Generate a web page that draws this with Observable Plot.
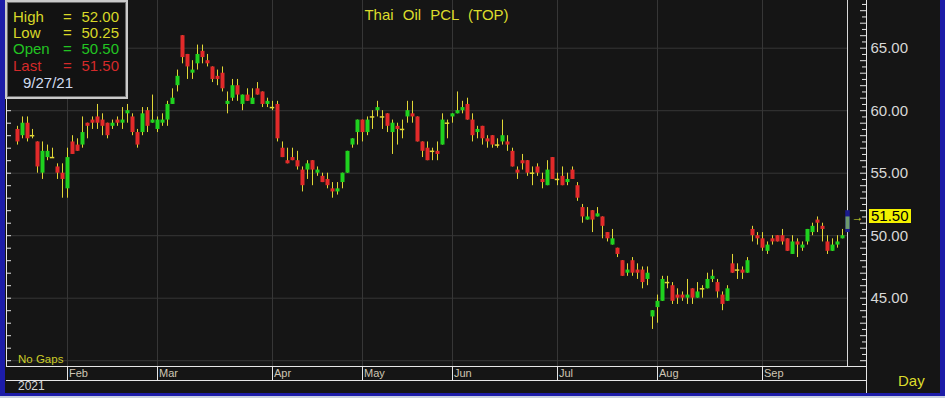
<!DOCTYPE html>
<html>
<head>
<meta charset="utf-8">
<script src="https://cdn.jsdelivr.net/npm/d3@7"></script>
<script src="https://cdn.jsdelivr.net/npm/@observablehq/plot@0.6"></script>
<style>
  html, body { margin:0; padding:0; background:#151515; overflow:hidden; }
  #wrap { position:relative; width:945px; height:398px; overflow:hidden; background:#151515; font-family:"Liberation Sans", Arial, sans-serif; }
  #wrap svg { position:absolute; left:0; top:0; }
  .ov { position:absolute; white-space:pre; }
  #legend { left:5px; top:0; width:123px; height:99px; box-sizing:border-box; border:2px solid #cacaca; box-shadow: inset 0 0 0 1px #6a6a6a; background:#121212; }
  .lg { font-size:15px; line-height:15px; }
</style>
</head>
<body>
<div id="wrap"></div>
<script>
// ---- data (trading-day index 0 = 18 Jan 2021 ... 166 = 27 Sep 2021) ----
const openP = [
58.5,58.0,59.0,58.0,57.5,55.0,56.25,56.25,55.5,55.0,
53.75,57.5,57.25,57.25,59.0,59.25,59.5,59.25,59.0,58.75,
59.25,59.0,59.75,59.5,58.25,58.25,60.0,59.0,58.5,59.0,
59.25,60.5,62.0,66.0,64.5,63.0,63.75,64.75,64.0,63.5,
62.75,63.0,60.5,61.0,62.0,60.5,61.25,60.5,61.75,61.5,
60.5,60.25,60.5,57.0,56.0,56.25,56.0,55.25,55.25,56.0,
55.0,54.75,54.5,53.75,53.5,54.25,55.0,57.25,58.25,59.25,
58.25,59.5,60.0,59.5,59.75,58.25,58.75,58.5,59.5,59.75,
59.5,57.5,57.0,56.75,56.75,57.25,59.0,59.5,59.75,60.0,
60.5,59.25,58.25,58.75,57.75,58.0,57.25,57.5,57.5,56.75,
55.25,56.0,56.0,55.0,55.5,54.5,54.0,56.25,54.5,54.75,
54.25,55.25,54.0,52.25,51.25,52.0,51.5,51.5,50.25,49.25,
49.0,48.0,47.0,48.0,47.25,47.25,46.5,43.5,44.25,44.75,
46.25,46.0,45.25,45.25,45.0,45.75,45.0,45.75,45.75,46.5,
46.25,45.25,44.75,47.75,47.25,47.25,47.0,50.5,50.0,49.75,
48.75,49.75,50.0,50.0,49.75,48.5,49.5,49.0,49.5,50.25,
51.25,50.75,49.5,48.75,49.25,49.75,50.5];
const highP = [
58.75,59.5,59.5,58.5,57.5,57.5,57.25,57.0,55.75,55.75,
57.0,58.0,57.75,59.5,59.0,59.5,60.5,59.75,59.0,59.25,
59.5,60.25,60.5,59.75,58.5,60.25,60.25,61.25,59.5,59.75,
60.75,61.75,63.25,66.0,64.5,64.0,65.25,65.25,64.5,63.5,
63.25,63.5,61.5,62.5,62.5,61.25,61.75,61.75,62.25,61.5,
61.0,60.75,60.75,57.5,57.0,57.0,56.75,55.5,56.0,56.0,
55.5,55.0,55.0,54.25,54.25,55.0,56.75,57.75,59.25,59.25,
59.5,60.0,60.75,60.0,59.75,59.25,59.0,59.25,60.75,60.75,
59.5,57.5,57.5,57.0,57.5,59.75,59.25,59.75,61.5,60.75,
61.0,59.75,58.75,58.75,58.0,58.0,57.75,59.25,58.0,57.0,
55.5,56.5,56.0,55.5,55.75,55.0,56.0,56.25,55.0,55.5,
55.0,55.5,54.25,52.5,52.25,52.0,52.25,51.5,50.25,50.5,
49.0,48.0,47.75,48.25,47.75,47.5,47.5,44.0,45.25,46.75,
46.75,46.25,45.75,45.5,46.5,45.75,46.25,46.0,47.0,47.25,
46.5,45.5,46.0,48.5,47.75,47.5,48.25,50.75,50.25,50.25,
49.5,50.0,50.0,50.5,49.75,50.0,49.75,49.5,50.5,51.0,
51.5,51.0,50.0,49.75,50.0,50.5,52.0];
const lowP = [
57.25,57.75,57.5,57.75,55.0,54.5,56.0,56.25,54.5,53.0,
53.0,56.5,56.75,57.0,57.75,58.5,58.5,58.0,57.75,58.5,
58.75,58.5,59.0,58.0,57.0,58.0,58.25,59.0,58.25,58.75,
58.75,60.5,61.5,63.75,62.5,62.5,63.25,63.75,63.5,62.25,
62.0,61.5,59.75,60.75,60.75,60.0,60.75,60.5,61.25,60.25,
60.25,60.0,57.5,56.25,55.75,56.0,55.25,53.5,54.5,54.0,
54.75,54.25,53.75,53.0,53.25,53.75,55.0,57.0,57.25,57.5,
58.0,58.5,59.5,58.5,58.25,56.5,57.25,57.75,59.0,59.0,
57.5,56.25,56.0,56.0,56.0,57.25,57.75,59.0,59.75,59.75,
59.25,57.5,57.75,57.25,57.0,57.0,57.0,57.25,56.75,55.5,
54.5,55.25,54.75,54.0,54.75,53.75,54.0,54.5,54.0,54.0,
54.0,54.5,52.75,51.0,51.25,50.25,51.5,49.75,49.5,49.25,
48.25,46.75,46.75,46.75,46.5,45.75,46.0,42.5,43.0,44.75,
45.75,44.5,44.5,44.75,44.5,44.5,45.0,45.0,45.75,46.25,
45.0,44.0,44.75,47.0,46.5,46.5,47.0,49.5,49.25,48.75,
48.5,49.25,49.5,49.25,48.75,48.5,48.25,48.75,49.25,50.0,
50.25,49.5,48.5,48.75,49.0,49.75,50.25];
const closeP = [
57.5,59.0,57.75,58.0,55.5,56.75,56.75,56.25,55.0,54.5,
56.25,56.5,56.75,58.25,58.75,59.0,59.0,58.75,58.0,59.0,
59.0,59.25,60.0,58.25,57.25,59.75,58.75,59.25,59.25,59.25,
60.5,61.0,62.75,64.25,63.5,63.25,64.5,64.25,63.75,62.5,
62.5,61.75,60.75,62.0,61.25,61.25,60.75,61.0,61.25,60.5,
60.75,60.25,57.75,56.25,55.75,56.0,55.5,54.0,55.75,55.25,
55.25,54.25,54.0,53.5,53.75,55.0,56.75,57.75,59.25,58.25,
59.25,59.5,60.25,59.5,58.75,59.0,58.5,58.5,60.0,59.5,
57.5,56.75,56.0,56.75,56.5,59.25,59.0,59.75,60.0,60.25,
59.25,58.0,58.5,57.75,57.5,57.25,57.25,58.0,57.25,55.5,
55.0,55.75,55.0,55.0,55.0,54.25,55.25,54.5,54.5,54.0,
54.5,54.5,53.0,51.5,51.5,51.25,51.75,50.75,49.75,49.75,
48.5,46.75,47.25,47.0,47.0,46.25,47.0,44.0,44.75,46.5,
46.25,44.75,45.0,45.0,45.25,45.0,45.5,45.75,46.5,46.75,
45.5,44.5,45.75,47.0,47.25,47.0,48.0,50.0,49.75,49.0,
49.25,49.5,49.5,49.5,48.75,49.5,49.25,49.25,50.5,50.75,
51.0,50.5,48.75,49.25,49.5,50.0,51.5];
const monthLabels = ["Feb","Mar","Apr","May","Jun","Jul","Aug","Sep"];
const monthStarts = [10,28,51,69,87,108,128,149];
const yearLabels = ["2021"];
const yearStarts = [0];
const priceTicks = [45,50,55,60,65];
const gridTicks = [40,45,50,55,60,65];
const titleText = "Thai Oil PCL (TOP)";
const legendLabels = ["High","Low","Open","Last"];
const lastDateLabel = "9/27/21";
const bottomNote = "No Gaps";
const periodLabel = "Day";

// ---- styling / layout ----
const C = {bg:"#151515", grid:"#363636", wick:"#e2d836", up:"#1fd21f", down:"#e22a2a",
  axis:"#e6e6e6", label:"#d8d8d8", month:"#cfc6b4", yellow:"#dcdc2c", blue:"#1c1ca8"};
const W = 945, H = 398, mL = 6, mR = 79, mT = 0, mB = 32;
const barStep = 5, firstBarPx = 17;
const xAt = px => (px - firstBarPx) / barStep;
const pxPerUnit = 12.5, y65px = 47.7;
const yAt = px => 65 + (y65px - px) / pxPerUnit;
const xDomain = [xAt(mL), xAt(W - mR)];
const yDomain = [yAt(H - mB), yAt(mT)];
const leftTicks = d3.range(40, 68.5, 1);
const rightMajor = d3.range(40, 68.5, 1);
const rightMinor = d3.range(40.5, 69, 1);

const candles = openP.map((open, i) => ({i, open, high: highP[i], low: lowP[i], close: closeP[i]}));
const last = candles[candles.length - 1];
const past = candles.slice(0, -1);
const bodies = past.filter(d => d.open !== d.close);
const dojis = past.filter(d => d.open === d.close);

const chart = Plot.plot({
  width: W, height: H, marginLeft: mL, marginRight: mR, marginTop: mT, marginBottom: mB,
  x: {type: "linear", domain: xDomain, axis: null},
  y: {type: "linear", domain: yDomain},
  color: {type: "identity"},
  style: {background: C.bg, fontFamily: '"Liberation Sans", Arial, sans-serif', color: C.label},
  marks: [
    Plot.ruleY(gridTicks, {x1: xDomain[0], x2: last.i, stroke: C.grid}),
    Plot.ruleX(monthStarts, {stroke: C.grid}),
    Plot.ruleX([xDomain[0]], {stroke: C.axis}),
    Plot.ruleX([xDomain[1]], {y1: yAt(393), y2: yDomain[1], stroke: C.axis}),
    Plot.ruleY([yAt(366), yAt(380)], {stroke: C.axis}),
    Plot.ruleX(monthStarts, {y1: yAt(366), y2: yAt(380), stroke: C.axis}),
    Plot.ruleX([last.i], {stroke: "#d8d8d8"}),
    // axis ticks (left inside edge, right axis strip)
    Plot.ruleY(leftTicks, {x1: xDomain[0], x2: xAt(11), stroke: C.axis}),
    Plot.ruleY(rightMajor, {x1: xAt(860), x2: xDomain[1], stroke: C.axis}),
    Plot.ruleY(rightMinor, {x1: xAt(862), x2: xDomain[1], stroke: C.axis}),
    Plot.axisY(priceTicks, {anchor: "right", tickSize: 0, tickPadding: 4, tickFormat: d => d.toFixed(2), fontSize: 15, color: C.label, label: null}),
    Plot.ruleX(past, {x: "i", y1: "low", y2: "high", stroke: C.wick}),
    Plot.ruleX(bodies, {x: "i", y1: "open", y2: "close", stroke: d => d.close > d.open ? C.up : C.down, strokeWidth: 4}),
    Plot.ruleY(dojis, {x1: d => d.i - 0.45, x2: d => d.i + 0.45, y: "close", stroke: C.wick, strokeWidth: 1.5}),
    Plot.ruleX([last], {x: "i", y1: "low", y2: "high", stroke: "#1b1b8e", strokeWidth: 4.5}),
    Plot.ruleX([last], {x: "i", y1: "open", y2: "close", stroke: "#6d9a6d", strokeWidth: 4}),
    Plot.text([last], {x: "i", y: "close", text: () => "→", dx: 10, fill: C.yellow, fontSize: 12}),
    Plot.text([titleText], {text: d => d, frameAnchor: "top", dy: 8.5, fill: C.yellow, fontSize: 15}),
    Plot.text(monthLabels, {x: (d, k) => monthStarts[k], text: d => d, frameAnchor: "bottom", dy: 10, dx: 1.5, textAnchor: "start", fill: C.month, fontSize: 11}),
    Plot.text(yearLabels, {x: (d, k) => yearStarts[k], text: d => d, frameAnchor: "bottom", dy: 23, dx: 0.5, textAnchor: "start", fill: C.label, fontSize: 12})
  ]
});

const wrap = document.getElementById("wrap");
wrap.appendChild(chart);
d3.select(chart).selectAll("text")
  .filter(function() { return this.textContent === titleText; })
  .attr("word-spacing", "5")
  .style("word-spacing", "5px");

function ov(html, css, cls) {
  const el = document.createElement("div");
  el.className = "ov" + (cls ? " " + cls : "");
  el.style.cssText = css;
  el.textContent = html;
  wrap.appendChild(el);
  return el;
}
// borders
ov("", "left:0;top:0;width:5px;height:396px;background:" + C.blue);
ov("", "left:0;top:393px;width:945px;height:3px;background:" + C.blue);
ov("", "left:0;top:396px;width:945px;height:2px;background:#c8d0e0");
ov("", "left:940px;top:0;width:5px;height:396px;background:" + C.blue);
// legend box
const lg = document.createElement("div"); lg.id = "legend"; lg.className = "ov"; wrap.appendChild(lg);
const legendVals = [last.high, last.low, last.open, last.close];
const legendCols = ["#d8d828", "#d8d828", "#22c422", "#d42a2a"];
const rowTops = [9, 25, 41, 57.5];
legendLabels.forEach((lab, k) => {
  ov(lab, `left:13px;top:${rowTops[k]}px;color:${legendCols[k]}`, "lg");
  ov("=", `left:63px;top:${rowTops[k]}px;color:${legendCols[k]}`, "lg");
  ov(legendVals[k].toFixed(2), `left:70px;width:49px;text-align:right;top:${rowTops[k]}px;color:${legendCols[k]}`, "lg");
});
ov(lastDateLabel, "left:23px;top:74.5px;color:#d0dcf0", "lg");
// misc labels
ov(bottomNote, "left:18px;top:353.5px;font-size:11.5px;line-height:11.5px;color:#cccc28");
ov(periodLabel, "left:898px;top:372.5px;font-size:15px;line-height:15px;color:" + C.yellow);
// price tag
const yLast = chart.scale("y").apply(last.close);
ov(last.close.toFixed(2), `left:869px;top:${yLast - 7}px;width:42px;height:14px;background:#f2f000;color:#000;font-size:15px;line-height:14px;padding-left:2px;box-sizing:border-box`);
</script>
</body>
</html>
